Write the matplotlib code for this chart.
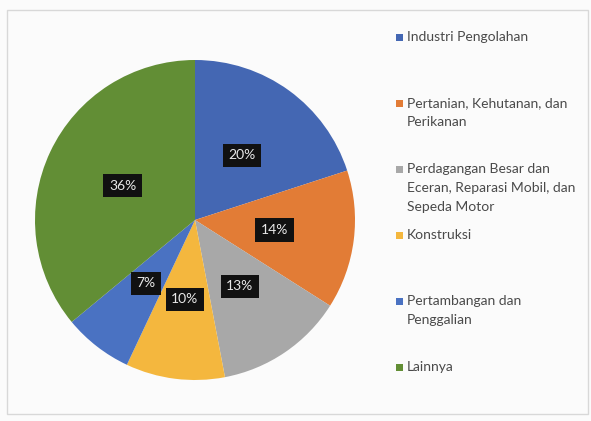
import matplotlib.pyplot as plt
from matplotlib.patches import Rectangle

# sectors, share of total (%)
categories = ['Industri Pengolahan',
              'Pertanian, Kehutanan, dan\nPerikanan',
              'Perdagangan Besar dan\nEceran, Reparasi Mobil, dan\nSepeda Motor',
              'Konstruksi',
              'Pertambangan dan\nPenggalian',
              'Lainnya']
shares = [20, 14, 13, 10, 7, 36]
colors = ['#4467b3', '#e27c36', '#a8a8a8', '#f4b73e', '#4a72c2', '#628e35']

plt.rcParams['font.family'] = ['Lato', 'DejaVu Sans']

fig = plt.figure(figsize=(5.91, 4.21), dpi=100, facecolor='#fbfbfb')
fig.patches.append(Rectangle((7 / 591, 7 / 421), 581 / 591, 404 / 421,
                             transform=fig.transFigure, fill=False,
                             edgecolor='#d8d8d8', linewidth=1))

# pie centre ~ (195, 220) px, radius ~160 px
ax = fig.add_axes([35 / 591, (421 - 380) / 421, 320 / 591, 320 / 421])
wedges, texts, autotexts = ax.pie(shares, colors=colors, startangle=90,
                                  counterclock=False, autopct='%d%%',
                                  pctdistance=0.5,
                                  wedgeprops=dict(linewidth=0))
for t in autotexts:
    t.set_color('#e8e8e8')
    t.set_fontsize(10)
    t.set_bbox(dict(facecolor='#111111', edgecolor='none', pad=4))
ax.set_xlim(-1, 1)
ax.set_ylim(-1, 1)
ax.set_aspect('equal')

# legend, evenly spaced entries
y0 = 37
step = 66
for i, (lab, col) in enumerate(zip(categories, colors)):
    y = y0 + i * step
    fig.patches.append(Rectangle((396 / 591, (421 - y - 4) / 421), 7 / 591, 7 / 421,
                                 transform=fig.transFigure, facecolor=col,
                                 edgecolor='none'))
    fig.text(407 / 591, (421 - y + 6) / 421, lab, fontsize=10, color='#4a4a4a',
             va='top', ha='left', linespacing=1.7,
             transform=fig.transFigure)

fig.savefig('out.png', dpi=100, facecolor=fig.get_facecolor())
